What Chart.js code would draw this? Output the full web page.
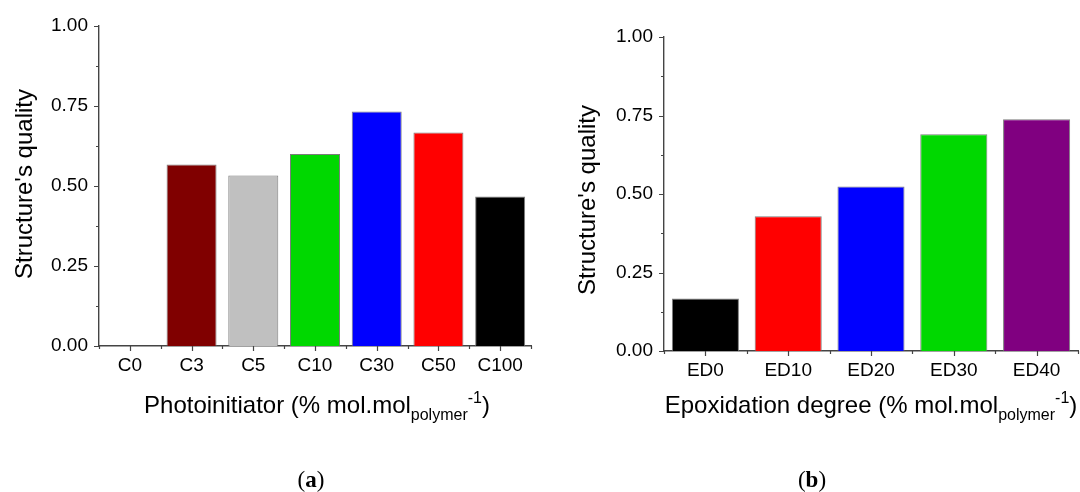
<!DOCTYPE html>
<html lang="en">
<head>
  <meta charset="UTF-8">
  <title>Structure's quality</title>
  <script src="https://cdn.jsdelivr.net/npm/chart.js"></script>
  <style>
    html, body { margin: 0; padding: 0; background: #fff; }
    .panel { position: absolute; top: 0; width: 540px; height: 492px; }
    #panelA { left: 0; }
    #panelB { left: 540px; }
  </style>
</head>
<body>
  <div class="panel" id="panelA"><canvas id="chartA" width="540" height="492"></canvas></div>
  <div class="panel" id="panelB"><canvas id="chartB" width="540" height="492"></canvas></div>

  <script>
    // (a) photoinitiator content
    const photoLabels = ["C0", "C3", "C5", "C10", "C30", "C50", "C100"];
    const photoQuality = [0, 0.567, 0.533, 0.600, 0.733, 0.667, 0.467];
    const photoColors = ["#ffffff", "#800000", "#c0c0c0", "#00d800", "#0000ff", "#ff0000", "#000000"];

    // (b) epoxidation degree
    const edLabels = ["ED0", "ED10", "ED20", "ED30", "ED40"];
    const edQuality = [0.167, 0.429, 0.524, 0.690, 0.738];
    const edColors = ["#000000", "#ff0000", "#0000ff", "#00d800", "#800080"];

    const yTicks = [0, 0.25, 0.5, 0.75, 1];

    const FONT = "'Liberation Sans', Arial, sans-serif";

    // draws tick marks, axis titles (with sub/superscript) and panel letter
    const decor = {
      id: "decor",
      afterDraw(chart, args, o) {
        const ctx = chart.ctx;
        const a = chart.chartArea;
        const x = chart.scales.x, y = chart.scales.y;
        ctx.save();

        // tick marks
        ctx.strokeStyle = "#444";
        ctx.lineWidth = 1.2;
        ctx.beginPath();
        yTicks.forEach((v, i) => {
          const py = Math.round(y.getPixelForValue(v)) + 0.5;
          ctx.moveTo(a.left, py); ctx.lineTo(a.left - 5, py);
          if (i < yTicks.length - 1) {
            const pm = Math.round(y.getPixelForValue((v + yTicks[i + 1]) / 2)) + 0.5;
            ctx.moveTo(a.left, pm); ctx.lineTo(a.left - 3, pm);
          }
        });
        const n = chart.data.labels.length;
        for (let i = 0; i < n; i++) {
          const px = Math.round(x.getPixelForValue(i)) + 0.5;
          ctx.moveTo(px, a.bottom); ctx.lineTo(px, a.bottom + 5);
        }
        for (let i = 0; i <= n; i++) {
          const px = Math.round(x.getPixelForValue(i - 0.5)) + 0.5;
          ctx.moveTo(px, a.bottom); ctx.lineTo(px, a.bottom + 3);
        }
        ctx.stroke();

        ctx.fillStyle = "#000";

        // y title
        ctx.save();
        ctx.translate(o.yTitleX, (a.top + a.bottom) / 2 + o.yTitleShift);
        ctx.rotate(-Math.PI / 2);
        ctx.font = "24px " + FONT;
        ctx.textAlign = "center";
        ctx.textBaseline = "middle";
        ctx.fillText("Structure's quality", 0, 0);
        ctx.restore();

        // x title with subscript / superscript
        const parts = [
          { t: o.xTitle, f: 24, dy: 0 },
          { t: "polymer", f: 16, dy: 7 },
          { t: "-1", f: 16, dy: -10 },
          { t: ")", f: 24, dy: 0 }
        ];
        let total = 0;
        parts.forEach(p => { ctx.font = p.f + "px " + FONT; p.w = ctx.measureText(p.t).width; total += p.w; });
        let cx = (a.left + a.right) / 2 + o.xTitleShift - total / 2;
        ctx.textAlign = "left";
        ctx.textBaseline = "alphabetic";
        parts.forEach(p => {
          ctx.font = p.f + "px " + FONT;
          ctx.fillText(p.t, cx, o.xTitleY + p.dy);
          cx += p.w;
        });

        // panel letter "(a)" with bold letter
        const pl = [
          { t: "(", f: "23px 'Liberation Serif', serif" },
          { t: o.panel, f: "bold 23px 'Liberation Serif', serif" },
          { t: ")", f: "23px 'Liberation Serif', serif" }
        ];
        let pw = 0;
        pl.forEach(p => { ctx.font = p.f; p.w = ctx.measureText(p.t).width; pw += p.w; });
        let px0 = o.panelX - pw / 2;
        pl.forEach(p => { ctx.font = p.f; ctx.fillText(p.t, px0, o.panelY); px0 += p.w; });

        ctx.restore();
      }
    };

    function makeChart(id, labels, values, colors, layout, deco) {
      return new Chart(document.getElementById(id), {
        type: "bar",
        data: {
          labels: labels,
          datasets: [{
            data: values,
            backgroundColor: colors,
            borderColor: "rgba(110,110,110,0.9)",
            borderWidth: 1,
            barPercentage: 0.81,
            categoryPercentage: 1
          }]
        },
        options: {
          responsive: false,
          animation: false,
          layout: { padding: { left: 0, right: layout.right, top: layout.top, bottom: 0 } },
          plugins: {
            legend: { display: false },
            tooltip: { enabled: false },
            decor: deco
          },
          scales: {
            x: {
              grid: { display: false, drawTicks: false },
              border: { display: true, color: "#444", width: 1.4 },
              ticks: { color: "#000", font: { family: FONT, size: 19 }, padding: 8, maxRotation: 0 },
              afterFit: s => { s.height = layout.xHeight; }
            },
            y: {
              min: 0,
              max: 1,
              afterBuildTicks: s => { s.ticks = yTicks.map(v => ({ value: v })); },
              grid: { display: false, drawTicks: false },
              border: { display: true, color: "#444", width: 1.4 },
              ticks: {
                color: "#000",
                font: { family: FONT, size: 19 },
                padding: 11,
                callback: v => Number(v).toFixed(2)
              },
              afterFit: s => { s.width = layout.yWidth; }
            }
          }
        },
        plugins: [decor]
      });
    }

    makeChart("chartA", photoLabels, photoQuality, photoColors,
      { yWidth: 99, right: 9, top: 26, xHeight: 146 },
      { xTitle: "Photoinitiator (% mol.mol", xTitleY: 413, xTitleShift: 2, yTitleX: 25, yTitleShift: -2, panel: "a", panelX: 311, panelY: 487 });

    makeChart("chartB", edLabels, edQuality, edColors,
      { yWidth: 124, right: 2, top: 37, xHeight: 141 },
      { xTitle: "Epoxidation degree (% mol.mol", xTitleY: 413, xTitleShift: 0, yTitleX: 48, yTitleShift: 6, panel: "b", panelX: 272, panelY: 487 });
  </script>
</body>
</html>
